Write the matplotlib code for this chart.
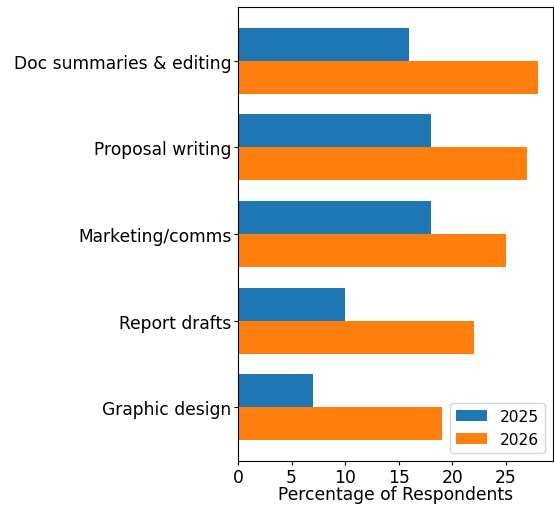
import numpy as np
import matplotlib.pyplot as plt

# Survey data
categories = ['Graphic design', 'Report drafts', 'Marketing/comms',
              'Proposal writing', 'Doc summaries & editing']
vals_2025 = [7, 10, 18, 18, 16]
vals_2026 = [19, 22, 25, 27, 28]

y = np.arange(len(categories))
h = 0.38

fig = plt.figure(figsize=(5.54, 5.06), dpi=100)
ax = fig.add_axes([0.4296, 0.087, 0.5684, 0.897])

ax.barh(y + h / 2, vals_2025, height=h, color='#1f77b4', label='2025')
ax.barh(y - h / 2, vals_2026, height=h, color='#ff7f0e', label='2026')

ax.set_yticks(y)
ax.set_yticklabels(categories)
ax.set_xticks([0, 5, 10, 15, 20, 25])
ax.tick_params(axis='both', labelsize=12.3, length=3.2, pad=1.5)
ax.set_xlabel('Percentage of Respondents', fontsize=12.3, labelpad=-0.5)
ax.legend(loc='lower right', fontsize=11.2)

fig.savefig('out.png', dpi=100)
